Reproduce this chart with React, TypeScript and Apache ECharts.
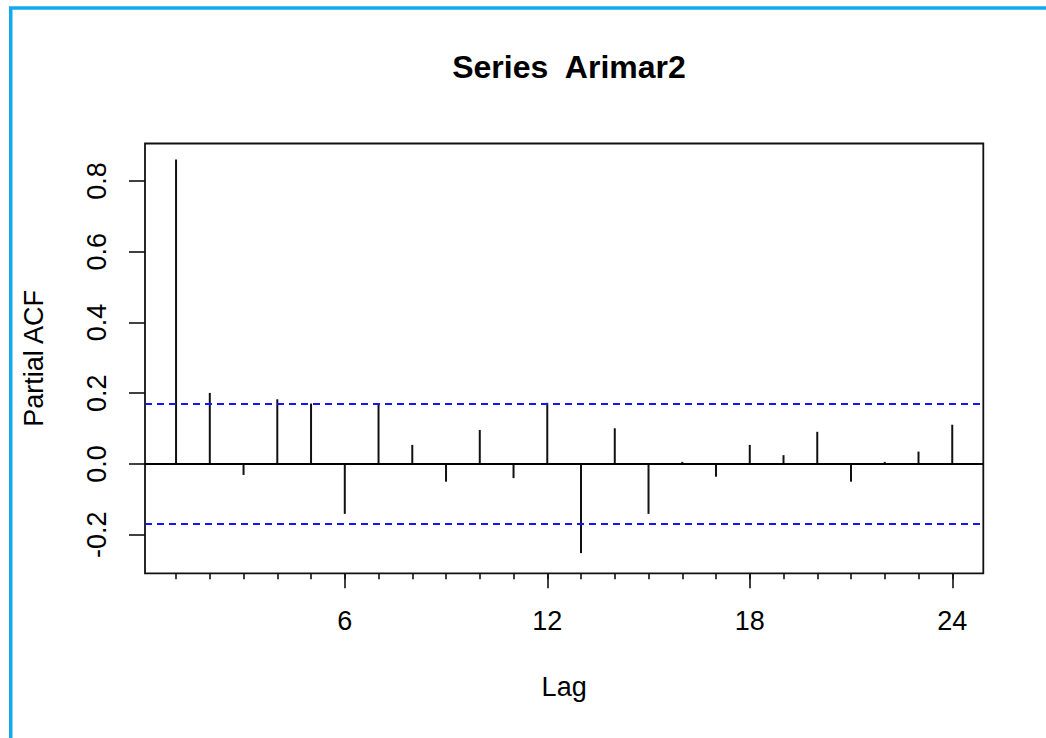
import React, { useEffect, useRef } from "react";
import * as echarts from "echarts";

const lags = [1, 2, 3, 4, 5, 6, 7, 8, 9, 10, 11, 12, 13, 14, 15, 16, 17, 18, 19, 20, 21, 22, 23, 24];
const pacfValues = [
  0.861, 0.201, -0.031, 0.183, 0.171, -0.141, 0.171, 0.054, -0.05, 0.096, -0.04, 0.173,
  -0.252, 0.101, -0.141, 0.006, -0.036, 0.054, 0.025, 0.091, -0.05, 0.006, 0.035, 0.111,
];
const confLimit = 0.17;
const yTicks = [-0.2, 0.0, 0.2, 0.4, 0.6, 0.8];
const xMinorTicks = lags;
const xMajorTicks = [6, 12, 18, 24];
const titleText = "Series  Arimar2";
const xName = "Lag";
const yName = "Partial ACF";

export default function App() {
  const ref = useRef<HTMLDivElement>(null);
  useEffect(() => {
    if (!ref.current) return;
    const chart = echarts.init(ref.current, null, { renderer: "svg" });
    const font = "Liberation Sans, Arial, sans-serif";
    const data = lags.map((l, i) => [l, pacfValues[i]]);
    chart.setOption({
      animation: false,
      backgroundColor: "#ffffff",
      title: {
        text: titleText,
        left: 564,
        textAlign: "center",
        top: 46,
        textStyle: { fontFamily: font, fontSize: 32, fontWeight: "bold", color: "#000" },
      },
      graphic: [
        {
          type: "rect",
          shape: { x: 10.75, y: 8, width: 1100, height: 800 },
          style: { fill: "none", stroke: "#14a9ec", lineWidth: 3.5 },
          silent: true,
        },
      ],
      grid: {
        left: 145,
        top: 143.5,
        right: 62.7,
        bottom: 164.7,
        show: true,
        borderColor: "#111",
        borderWidth: 1.8,
        backgroundColor: "transparent",
      },
      xAxis: [
        {
          type: "value",
          position: "bottom",
          min: 0.08,
          max: 24.92,
          axisLine: { show: false, onZero: false },
          splitLine: { show: false },
          axisTick: {
            show: true,
            inside: false,
            length: 6,
            customValues: xMinorTicks,
            lineStyle: { color: "#111", width: 1.6 },
          },
          axisLabel: { show: false },
          name: xName,
          nameLocation: "middle",
          nameGap: 100,
          nameTextStyle: { fontFamily: font, fontSize: 27, color: "#000" },
        },
        {
          type: "value",
          position: "bottom",
          min: 0.08,
          max: 24.92,
          axisLine: { show: false, onZero: false },
          splitLine: { show: false },
          axisTick: {
            show: true,
            length: 15,
            customValues: xMajorTicks,
            lineStyle: { color: "#111", width: 1.6 },
          },
          axisLabel: {
            show: true,
            customValues: xMajorTicks,
            margin: 34,
            fontFamily: font,
            fontSize: 27,
            color: "#000",
            formatter: (v: number) => String(v),
          },
        },
      ],
      yAxis: {
        type: "value",
        min: -0.309,
        max: 0.906,
        axisLine: { show: false, onZero: false },
        splitLine: { show: false },
        axisTick: {
          show: true,
          length: 16,
          customValues: yTicks,
          lineStyle: { color: "#111", width: 1.6 },
        },
        axisLabel: {
          show: true,
          customValues: yTicks,
          rotate: 90,
          margin: 35,
          fontFamily: font,
          fontSize: 27,
          color: "#000",
          formatter: (v: number) => v.toFixed(1),
        },
        name: yName,
        nameLocation: "middle",
        nameGap: 98,
        nameTextStyle: { fontFamily: font, fontSize: 27, color: "#000" },
      },
      series: [
        {
          type: "custom",
          xAxisIndex: 0,
          yAxisIndex: 0,
          data,
          encode: { x: 0, y: 1 },
          renderItem: (params: any, api: any) => {
            const p0 = api.coord([api.value(0), 0]);
            const p1 = api.coord([api.value(0), api.value(1)]);
            return {
              type: "line",
              shape: { x1: p0[0], y1: p0[1], x2: p1[0], y2: p1[1] },
              style: { stroke: "#111", lineWidth: 2 },
            };
          },
          markLine: {
            silent: true,
            symbol: ["none", "none"],
            label: { show: false },
            data: [
              { yAxis: 0, lineStyle: { color: "#000", width: 2, type: "solid" } },
              { yAxis: confLimit, lineStyle: { color: "#1414ff", width: 2, type: [7, 5] } },
              { yAxis: -confLimit, lineStyle: { color: "#1414ff", width: 2, type: [7, 5] } },
            ],
          },
        },
      ],
    });
    return () => chart.dispose();
  }, []);
  return (
    <div
      ref={ref}
      style={{ position: "fixed", left: 0, top: 0, width: 1046, height: 738 }}
    />
  );
}
